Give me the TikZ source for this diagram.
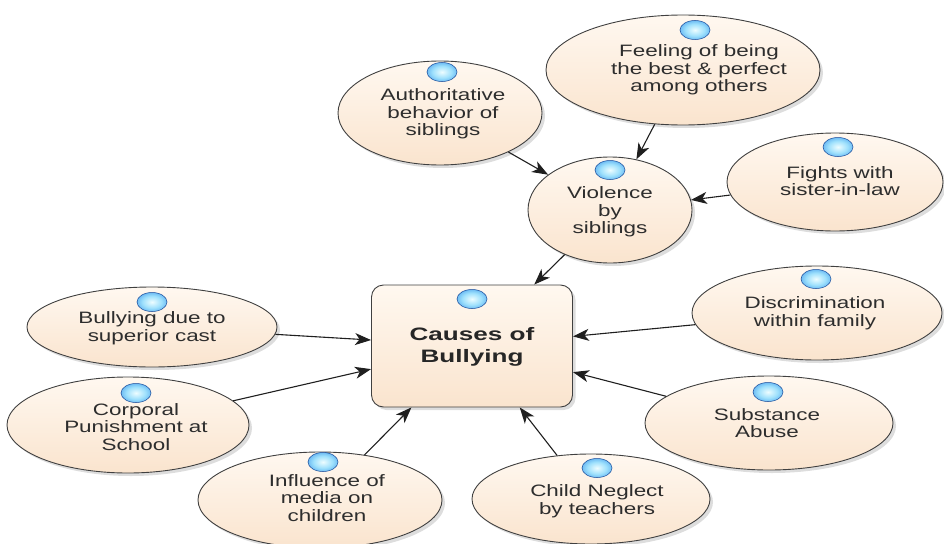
\documentclass[tikz,border=0pt]{standalone}
\usepackage{fontspec}
\setmainfont{Liberation Sans}[FakeStretch=1.36]
\newfontfamily\causefont{Liberation Sans}[FakeStretch=1.45]
\usetikzlibrary{shapes.geometric,shadows,arrows.meta}
\definecolor{peachlight}{RGB}{255,248,240}
\definecolor{peach}{RGB}{250,228,206}
\definecolor{textgray}{RGB}{45,45,45}
\pgfdeclareradialshading{bluedot}{\pgfpoint{0bp}{0bp}}{rgb(0bp)=(0.93,0.99,1); rgb(16bp)=(0.62,0.88,0.99); rgb(34bp)=(0.25,0.6,0.92); rgb(50bp)=(0.1,0.36,0.75)}
\tikzset{
  bubble/.style={ellipse, draw=black!75, line width=0.9pt, top color=peachlight, bottom color=peach,
    drop shadow={shadow xshift=3pt, shadow yshift=-3pt, opacity=0.22, fill=black!60}, inner sep=0pt},
  causebox/.style={rectangle, rounded corners=12pt, draw=black!75, line width=0.9pt, top color=peachlight, bottom color=peach,
    drop shadow={shadow xshift=3pt, shadow yshift=-3pt, opacity=0.22, fill=black!60}, inner sep=0pt,
    minimum width=201pt, minimum height=122pt},
  txt/.style={align=center, text=textgray, font=\fontsize{16.5}{17.5}\selectfont, inner sep=0pt},
  bigtxt/.style={align=center, text=black!85, font=\causefont\bfseries\fontsize{18}{22}\selectfont, inner sep=0pt},
  bluedotnode/.style={ellipse, minimum width=30pt, minimum height=19pt, inner sep=0pt, shade, shading=bluedot,
    draw={rgb,255:red,20;green,70;blue,150}, line width=0.5pt},
  arr/.style={-{Stealth[length=16pt,width=12pt,inset=4.5pt]}, line width=1.1pt, draw=black!88},
}
\begin{document}
\begin{tikzpicture}[x=1pt,y=-1pt]
\useasboundingbox (0,0) rectangle (944,543);
\clip (0,0) rectangle (944,543);
% ellipses
\node[bubble, minimum width=204pt, minimum height=104pt] (auth) at (440,113) {};
\node[bubble, minimum width=274pt, minimum height=110pt] (feel) at (683,70) {};
\node[bubble, minimum width=216pt, minimum height=98pt] (fight) at (835,182) {};
\node[bubble, minimum width=164pt, minimum height=106pt] (viol) at (610,210) {};
\node[causebox] (cause) at (472,346) {};
\node[bubble, minimum width=250pt, minimum height=80pt] (bull) at (152,327) {};
\node[bubble, minimum width=242pt, minimum height=96pt] (corp) at (128,425) {};
\node[bubble, minimum width=244pt, minimum height=96pt] (infl) at (320,500) {};
\node[bubble, minimum width=238pt, minimum height=90pt] (child) at (591,499) {};
\node[bubble, minimum width=248pt, minimum height=94pt] (subst) at (769,423) {};
\node[bubble, minimum width=250pt, minimum height=94pt] (disc) at (817,313) {};
% dots
\node[bluedotnode] (authD) at (442,72) {};
\node[bluedotnode] (feelD) at (695,30) {};
\node[bluedotnode] (fightD) at (838,147) {};
\node[bluedotnode] (violD) at (610,170) {};
\node[bluedotnode] (causeD) at (472,299) {};
\node[bluedotnode] (bullD) at (152,302) {};
\node[bluedotnode] (corpD) at (136,393) {};
\node[bluedotnode] (inflD) at (323,462) {};
\node[bluedotnode] (childD) at (597,468) {};
\node[bluedotnode] (substD) at (768,392) {};
\node[bluedotnode] (discD) at (816,279) {};
% texts
\node[txt] (authT) at (443,114) {Authoritative\\behavior of\\siblings};
\node[txt] (feelT) at (699,70) {Feeling of being\\the best \& perfect\\among others};
\node[txt] (fightT) at (840,181) {Fights with\\sister-in-law};
\node[txt] (violT) at (610,212) {Violence\\by\\siblings};
\node[bigtxt] (causeT) at (472,347) {Causes of\\Bullying};
\node[txt] (bullT) at (152,328) {Bullying due to\\superior cast};
\node[txt] (corpT) at (136,427) {Corporal\\Punishment at\\School};
\node[txt] (inflT) at (327,498) {Influence of\\media on\\children};
\node[txt] (childT) at (597,501) {Child Neglect\\by teachers};
\node[txt] (substT) at (767,423) {Substance\\Abuse};
\node[txt] (discT) at (815,313) {Discrimination\\within family};
% connectors
\draw[arr] (auth) -- (viol);
\draw[arr] (feel) -- (viol);
\draw[arr] (fight) -- (viol);
\draw[arr] (viol) -- (cause);
\draw[arr] (bull) -- (cause);
\draw[arr] (corp) -- (cause);
\draw[arr] (infl) -- (cause);
\draw[arr] (child) -- (cause);
\draw[arr] (subst) -- (cause);
\draw[arr] (disc) -- (cause);
\end{tikzpicture}
\end{document}
